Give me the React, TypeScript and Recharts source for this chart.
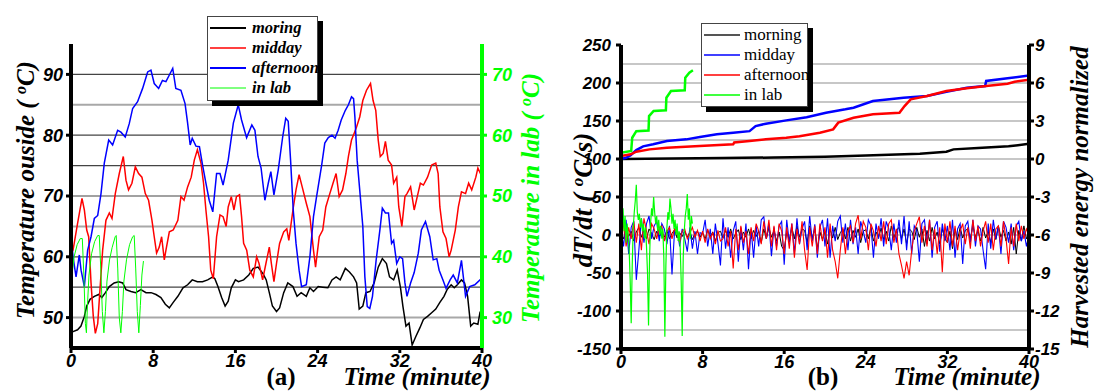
import { LineChart, Line, XAxis, YAxis, ReferenceLine } from 'recharts';

type Pt = [number, number];

// ---- (a) outside / lab temperature, [minute, °C] ----
const morningTemp: Pt[] = [
  [0, 47.5], [0.2, 47.7], [0.64, 48], [0.97, 48.6], [1.3, 50.2], [1.53, 51.9], [1.85, 53], [2.27, 53.5],
  [2.7, 53.8], [3.0, 53.3], [3.35, 54.1], [3.73, 55.1], [4.2, 55.7], [4.64, 55.9], [5.03, 55.7], [5.35, 54.6],
  [5.84, 54.3], [6.3, 54.1], [6.8, 54.6], [7.3, 54.1], [7.8, 54.1], [8.27, 53.8], [8.75, 53.3], [9.18, 52.2],
  [9.57, 51.6], [9.95, 52.5], [10.4, 53.5], [10.9, 54.9], [11.35, 55.4], [11.8, 56.2], [12.3, 55.9], [12.8, 55.9],
  [13.3, 56.2], [13.8, 56.7], [14.0, 56.4], [14.3, 55.1], [14.66, 53.3], [15.0, 51.9], [15.3, 52.7], [15.6, 54.9],
  [16, 56.2], [16.3, 55.9], [16.8, 56.2], [17.3, 57], [17.74, 58.1], [18.2, 58.3], [18.7, 57.2], [19, 56.2],
  [19.3, 54.1], [19.6, 51.9], [20, 51], [20.3, 51.6], [20.7, 54.1], [21.1, 55.7], [21.6, 55.1], [22.0, 53.5],
  [22.4, 54.1], [22.9, 53.5], [23.25, 54.9], [23.6, 54.3], [24.06, 55.1], [24.5, 55], [25.0, 54.9], [25.4, 56.2],
  [25.8, 56.7], [26.2, 56.2], [26.7, 58.1], [27.1, 57.5], [27.5, 56.7], [27.8, 55.7], [28.05, 51.4], [28.4, 51.9],
  [28.7, 54.1], [29.1, 54.3], [29.5, 55.7], [29.9, 58.3], [30.3, 59.7], [30.7, 58.9], [31.0, 56.7], [31.4, 56.2],
  [31.75, 57.8], [32.07, 54.9], [32.3, 51.9], [32.6, 48.6], [32.9, 49.1], [33.2, 45.5], [33.56, 46.9], [33.95, 48.3],
  [34.3, 49.7], [34.7, 50.2], [35.1, 50.8], [35.5, 51.4], [35.9, 52.5], [36.3, 53.5], [36.6, 54.6], [37.0, 55.4],
  [37.3, 54.9], [37.6, 55.4], [38, 56.2], [38.3, 55.7], [38.6, 53.5], [38.9, 48.6], [39.2, 49.1], [39.6, 48.9],
  [39.8, 50.8], [40, 50.5],
];

const middayTemp: Pt[] = [
  [0, 60.5], [0.2, 61.1], [0.64, 65.5], [1.07, 69.6], [1.3, 67.7], [1.53, 64.4], [1.72, 63.3], [1.95, 55.7],
  [2.17, 50.2], [2.37, 47.4], [2.6, 49], [2.82, 54.6], [3.08, 61.1], [3.4, 66], [3.73, 67.2], [3.99, 66.3],
  [4.31, 70.4], [4.7, 73.7], [5.09, 76.5], [5.35, 72.6], [5.6, 71], [5.93, 72.1], [6.26, 74.8], [6.58, 73.7],
  [6.9, 73.1], [7.23, 70.4], [7.55, 69.3], [7.88, 66], [8.1, 63.3], [8.33, 60.6], [8.59, 61.6], [8.82, 63.3],
  [9.08, 59.5], [9.24, 61.1], [9.57, 64.1], [9.95, 64.4], [10.4, 66], [10.7, 69.9], [11.0, 69.3], [11.35, 71.5],
  [11.7, 73.1], [12.0, 75.9], [12.3, 77.6], [12.65, 75.4], [12.9, 72.1], [13.13, 67.7], [13.39, 63.3], [13.6, 57.8],
  [13.85, 56.4], [14.17, 63.3], [14.5, 66.9], [14.8, 66.6], [15.1, 65], [15.3, 68.2], [15.6, 69.9], [15.86, 67.7],
  [16.1, 69.9], [16.4, 70.2], [16.6, 66.6], [16.8, 62.2], [17.1, 61.1], [17.4, 57.8], [17.74, 56.7], [18.07, 60],
  [18.3, 58.9], [18.65, 56.2], [18.97, 58.9], [19.3, 61.6], [19.5, 58.9], [19.75, 55.9], [20.0, 58.9], [20.3, 62.2],
  [20.7, 64.1], [21.0, 64.6], [21.2, 62.7], [21.6, 67.7], [21.9, 71], [22.2, 73.5], [22.5, 71.5], [22.9, 68.8],
  [23.25, 66.6], [23.6, 61.1], [23.8, 58.3], [24.16, 63.3], [24.5, 64.4], [24.8, 68.2], [25.1, 69.9], [25.5, 72.1],
  [25.8, 73.7], [26.1, 69.9], [26.43, 71], [26.75, 73.7], [27.0, 76.5], [27.3, 79.2], [27.6, 80.5], [27.8, 81.4],
  [28.1, 83], [28.4, 85.7], [28.76, 87.4], [29.15, 88.5], [29.4, 85.7], [29.66, 84.1], [29.9, 79.2], [30.1, 76.5],
  [30.38, 77], [30.6, 79], [30.87, 75.9], [31.2, 75.1], [31.4, 72.1], [31.7, 73.1], [31.9, 68.2], [32.2, 65],
  [32.5, 69.9], [32.7, 70.4], [33.05, 71.5], [33.4, 67.7], [33.7, 69.9], [34, 72.1], [34.3, 71.8], [34.7, 73.1],
  [35.1, 75.1], [35.5, 75.4], [35.73, 73.7], [35.9, 68.2], [36.2, 64.1], [36.5, 63], [36.8, 60], [37.0, 61.1],
  [37.4, 64.4], [37.7, 68.2], [38, 70.7], [38.4, 70.4], [38.7, 72.1], [39.0, 71], [39.4, 73.1], [39.6, 74.6],
  [39.9, 73.5], [40, 74],
];

const afternoonTemp: Pt[] = [
  [0, 63.5], [0.2, 60], [0.49, 56.7], [0.81, 60.3], [0.98, 57.8], [1.3, 55.1], [1.62, 61.1], [1.95, 63.3],
  [2.27, 66.3], [2.6, 66.8], [2.92, 70.4], [3.24, 75.4], [3.67, 79.2], [4.05, 78.4], [4.54, 80.8], [4.86, 80.5],
  [5.28, 79.7], [5.67, 81.9], [6.0, 84.4], [6.48, 85.5], [6.97, 87.7], [7.46, 90.4], [7.78, 90.7], [8.1, 88.5],
  [8.53, 87.7], [8.9, 89], [9.24, 88.8], [9.57, 89.9], [9.9, 91], [10.2, 87.7], [10.7, 87.4], [11.1, 85.2],
  [11.35, 82], [11.6, 78.4], [11.8, 79.5], [12.16, 78.2], [12.5, 78.1], [12.8, 75.1], [13.13, 72.1], [13.45, 69.3],
  [13.8, 67.4], [14.17, 73.7], [14.5, 73.7], [14.8, 71.8], [15.3, 75.9], [15.8, 82], [16.28, 85], [16.6, 82.5],
  [17.09, 79.6], [17.6, 81.7], [17.9, 80.8], [18.2, 76.5], [18.5, 74.6], [18.87, 69.3], [19.2, 72.1], [19.45, 74],
  [19.75, 70.2], [20.17, 74.3], [20.6, 79.7], [20.9, 82.8], [21.14, 82.3], [21.37, 75.9], [21.63, 67.7], [21.9, 62.2],
  [22.2, 57.8], [22.44, 55.1], [22.9, 55.4], [23.25, 60], [23.6, 66.6], [23.9, 69.9], [24.4, 75.1], [24.7, 78.7],
  [25.04, 79.6], [25.4, 80], [25.7, 79.5], [26.0, 80.8], [26.3, 82.5], [26.7, 84.1], [27.0, 85], [27.3, 86.3],
  [27.5, 86], [27.63, 83], [27.85, 75.9], [28.1, 71], [28.4, 65], [28.6, 56.7], [28.83, 51.8], [29.08, 51.5],
  [29.34, 53.5], [29.7, 59.5], [30.06, 64.4], [30.3, 68], [30.6, 67.2], [30.9, 67.2], [31.2, 62.2], [31.4, 62.7],
  [31.7, 58.9], [32, 60], [32.27, 59.7], [32.5, 55.7], [32.7, 53.5], [33.05, 55.7], [33.4, 57.4], [33.8, 60.6],
  [34.1, 64.4], [34.5, 65.8], [34.92, 63.3], [35.25, 59.5], [35.6, 59.7], [35.83, 57.8], [36.2, 56.2], [36.5, 54.8],
  [36.9, 56.2], [37.2, 57], [37.6, 55.7], [38, 59.4], [38.4, 53.5], [38.8, 55.1], [39.3, 55.4], [39.8, 56.2],
  [40, 56],
];

// lab temperature is read on the green (right) axis
const labTemp: Pt[] = [
  [0, 32], [0.1, 37], [0.3, 40], [0.6, 42], [0.9, 43], [1.1, 43], [1.25, 37], [1.4, 29], [1.5, 27.5],
  [1.6, 32], [1.75, 37], [2.0, 40.5], [2.3, 42.5], [2.6, 43.5], [2.75, 43.5], [2.9, 38], [3.05, 31], [3.2, 27.5],
  [3.35, 31], [3.5, 36], [3.75, 39.5], [4.0, 41.5], [4.3, 43.3], [4.4, 43.5], [4.55, 38], [4.7, 30], [4.85, 27.5],
  [5.0, 31], [5.15, 36], [5.4, 39.5], [5.7, 42], [6.0, 43.3], [6.15, 43.5], [6.3, 38], [6.45, 31], [6.6, 27.5],
  [6.75, 32], [6.9, 37], [7.05, 39.3],
];

// ---- (b) harvested energy (normalized, right axis), [minute, value] ----
const morningEnergy: Pt[] = [
  [0, 0], [5, 0.03], [10, 0.07], [15, 0.12], [20, 0.18], [24, 0.28], [27, 0.36], [29.3, 0.42],
  [31.9, 0.58], [32.6, 0.76], [35, 0.86], [38, 1.0], [40, 1.2],
];
const middayEnergy: Pt[] = [
  [0, 0], [0.5, 0.1], [0.95, 0.3], [1.5, 0.7], [2.17, 1.0], [3.15, 1.16], [4.5, 1.42], [6.4, 1.55],
  [7.74, 1.74], [9.4, 1.95], [11, 2.08], [12.6, 2.2], [13.2, 2.6], [14.2, 2.79], [16.2, 3.05], [18.2, 3.3],
  [20.1, 3.65], [22, 3.92], [22.8, 4.05], [24.7, 4.58], [27.7, 4.84], [30, 4.97], [31.9, 5.3], [33.9, 5.63],
  [35.7, 5.76], [35.8, 6.16], [37.9, 6.37], [40, 6.6],
];
const afternoonEnergy: Pt[] = [
  [0, 0.24], [0.95, 0.37], [1.5, 0.58], [2.8, 0.76], [4.5, 0.89], [7.7, 1.03], [11, 1.16], [11.1, 1.3],
  [12.6, 1.42], [14.2, 1.55], [16.2, 1.68], [17.5, 1.8], [19.5, 2.08], [20.8, 2.34], [21.3, 2.87], [22.8, 3.26],
  [24.7, 3.53], [27.3, 3.65], [27.8, 4.18], [28.4, 4.71], [30, 4.97], [31.9, 5.37], [33.9, 5.58], [35.8, 5.76],
  [37.9, 5.94], [38.6, 6.1], [40, 6.25],
];
const labEnergy: Pt[] = [
  [0, 0.5], [1.0, 0.63], [1.1, 1.68], [1.5, 2.2], [2.7, 2.25], [2.75, 3.39], [3.2, 3.79], [4.4, 3.85],
  [4.45, 4.84], [4.9, 5.37], [6.25, 5.42], [6.3, 6.42], [6.7, 6.81], [7.05, 7.0],
];

// ---- (b) dT/dt in °C/s, one reading every 0.25 min (lab: every 0.1 min) ----
const RATE_STEP = 0.25;
const LAB_STEP = 0.1;

const morningRate = [
  3, -5, 8, -2, 5, -8, 4, 10, -3, 6, -5, 8, 2, -6, 5, -2,
  4, -3, 6, -5, 2, 7, -4, 3, -2, 5, -3, 4, -6, 2, 5, -3,
  3, -5, 6, -2, 4, -8, 3, 5, -4, 6, -3, 8, -5, 2, 7, -6,
  4, -3, 8, -5, 6, -2, 5, -10, 8, -5, 10, -3, 6, -8, 4, -15,
  -20, 5, -8, 10, -5, 12, -3, 8, 6, -10, 12, -5, 8, -18, 4, -6,
  5, -12, 8, -4, 10, -6, 3, 8, -5, 10, -8, 6, -3, 8, -10, 5,
  7, -5, 10, -8, 4, -3, 9, -6, 5, -8, 12, -4, 6, 10, -5, 8,
  -12, 8, 5, -6, 10, -3, 8, -15, 6, -8, 10, -5, 4, -12, 8, -4,
  -10, 5, -18, 8, -6, 10, -4, 6, 8, -5, 12, -3, 6, -8, 10, -4,
  5, -10, 8, -6, 12, -3, 6, -8, 4, -12, 10, -25, 6, -8, 12, -5,
  3,
];
const middayRate = [
  5, -15, 20, -25, 10, 18, -59, -20, 22, -10, 15, 25, -5, 12, 18, -8,
  15, 8, -12, 12, -52, 5, 10, -15, 8, -5, -22, 10, -18, 5, -25, 3,
  2, 20, -15, 8, -25, 15, -10, -40, 22, -18, 10, -30, 5, 18, -35, 10,
  -20, 15, -45, 8, -30, 12, -15, 20, 24, -5, 15, -28, 10, -15, 12, 18,
  -39, 20, -10, 15, -25, 22, -12, 8, 18, -20, 25, -8, 14, -30, 10, 20,
  -15, 22, -30, 12, -8, 18, 25, -10, 15, -20, 20, -12, 10, -25, 18, 5,
  -10, 20, 12, -30, 15, -5, 22, -15, 18, 8, -20, 15, -10, 20, -12, 25,
  -20, 18, -25, 12, 5, -35, 15, 20, -12, 20, -30, 10, 18, -22, 15, -8,
  12, -20, 20, -30, 8, 15, -38, 12, 18, -10, 20, -15, 12, 8, -20, -45,
  15, -18, 20, -5, 12, -25, 18, 10, -10, 15, -20, 12, 18, -8, 5, -15,
  0,
];
const afternoonRate = [
  -28, 20, -15, 10, -5, 18, -10, 15, -20, 22, 5, -12, 15, 8, -5, 10,
  12, -8, 5, 10, -5, 8, 3, -10, 5, 8, -5, 3, 10, -3, 6, -8,
  5, -10, 8, -5, 3, -12, 6, -8, -5, 10, -15, 5, -44, 8, -20, 12,
  -10, 5, -25, 10, -8, 15, 5, -12, 18, -5, 20, -15, 12, -20, 15, 5,
  -25, 10, -18, 15, -30, 8, -12, 18, -20, -46, 10, -15, 12, -25, 15, -8,
  10, -30, 15, -20, -35, -57, -20, 10, -25, 5, 12, -10, 15, 26, -5, 18,
  10, -20, 15, 5, -15, 12, -8, 18, -12, 15, 20, -10, 8, -25, -40, -57,
  -35, -53, -20, 5, 15, 24, -10, 12, -15, 20, -20, 8, -25, 10, -49, 15,
  -10, 18, -15, 12, -20, 5, 15, -12, 10, -18, 20, -8, 12, -15, 5, 18,
  -10, 15, -20, 8, 12, -15, 18, -5, -38, 10, -15, 15, -8, 12, -5, 8,
  0,
];
const labRate = [
  45, 20, 35, 5, 25, -10, 15, 0, -20, -60, -116, -40, 10, 30, 45, 66, 30, 20, 28, 10,
  22, 5, 15, -5, 10, -15, -50, -119, -30, 15, 35, 25, 50, 30, 15, 25, 5, 20, 0, 12,
  -5, 8, -30, -134, -40, 10, 30, 20, 48, 35, 15, 28, 8, 20, 0, 15, -8, 5, -15, -60,
  -133, -30, 5, 25, 35, 54, 20, 35, -5, 25, 15,
];

// ---- axes / grid ----
const timeTicks = [0, 8, 16, 24, 32, 40];
const tempTicks = [50, 60, 70, 80, 90];
const labTicks = [30, 40, 50, 60, 70];
const tempGridDark = [55, 60, 70, 75, 80, 90];
const tempGridLight = [50, 65, 85];
const rateTicks = [-150, -100, -50, 0, 50, 100, 150, 200, 250];
const energyTicks = [-15, -12, -9, -6, -3, 0, 3, 6, 9];
const rateGrid = [-125, -100, -75, -50, -25, 0, 25, 50, 75, 100, 125, 150, 175, 200, 225];

const GREEN = '#00ff00';
const SANS = 'Liberation Sans, Arial, sans-serif';
const SERIF = 'Liberation Serif, Times New Roman, serif';

const toRows = (pts: Pt[]) => pts.map(([t, v]) => ({ t, v }));
const seqRows = (vals: number[], step: number) => vals.map((v, i) => ({ t: +(i * step).toFixed(2), v }));

const tickFont = (size: number, fill = '#000') => ({
  fontSize: size,
  fontFamily: SANS,
  fontWeight: 700,
  fontStyle: 'italic',
  fill,
});

const axisLine = (stroke = '#000') => ({ stroke, strokeWidth: 4 });
const tickLine = (stroke = '#000') => ({ stroke, strokeWidth: 3 });

function LegendBox({
  left, top, width, height, items, italic,
}: {
  left: number; top: number; width: number; height: number;
  items: { label: string; color: string; w: number }[];
  italic: boolean;
}) {
  return (
    <div
      style={{
        position: 'absolute', left, top, width, height, boxSizing: 'border-box',
        background: '#fff', border: '1px solid #444', boxShadow: '5px 5px 0 #000',
        paddingTop: 1,
      }}
    >
      {items.map((it) => (
        <div key={it.label} style={{ height: 20, display: 'flex', alignItems: 'center' }}>
          <svg width={40} height={20} style={{ flex: 'none', marginLeft: 2 }}>
            <line x1={0} y1={10} x2={36} y2={10} stroke={it.color} strokeWidth={it.w} />
          </svg>
          <span
            style={{
              fontFamily: SERIF,
              fontSize: italic ? 16.5 : 17,
              fontWeight: italic ? 700 : 400,
              fontStyle: italic ? 'italic' : 'normal',
              lineHeight: '20px',
              marginLeft: italic ? 2 : 0,
            }}
          >
            {it.label}
          </span>
        </div>
      ))}
    </div>
  );
}

function PanelA() {
  return (
    <LineChart width={560} height={392} margin={{ top: 44, right: 18, bottom: 14, left: 11 }}>
      <XAxis
        dataKey="t" type="number" domain={[0, 40]} ticks={timeTicks} allowDataOverflow
        height={30} tickSize={5} tickMargin={1}
        axisLine={axisLine()} tickLine={tickLine()} tick={tickFont(18)}
      />
      <YAxis
        yAxisId="temp" domain={[45, 95]} ticks={tempTicks} allowDataOverflow width={60}
        tickSize={5} tickMargin={3} axisLine={axisLine()} tickLine={tickLine()} tick={tickFont(18)}
      />
      <YAxis
        yAxisId="lab" orientation="right" domain={[25, 75]} ticks={labTicks} allowDataOverflow width={60}
        tickSize={5} tickMargin={5} axisLine={axisLine(GREEN)} tickLine={tickLine(GREEN)} tick={tickFont(18, GREEN)}
      />
      {tempGridLight.map((y) => (
        <ReferenceLine key={'l' + y} yAxisId="temp" y={y} stroke="#a8a8a8" strokeWidth={2} />
      ))}
      {tempGridDark.map((y) => (
        <ReferenceLine key={'d' + y} yAxisId="temp" y={y} stroke="#444" strokeWidth={1.2} />
      ))}
      <Line data={toRows(morningTemp)} dataKey="v" yAxisId="temp" stroke="#000" strokeWidth={1.5} dot={false} isAnimationActive={false} />
      <Line data={toRows(middayTemp)} dataKey="v" yAxisId="temp" stroke="#ff0000" strokeWidth={1.5} dot={false} isAnimationActive={false} />
      <Line data={toRows(afternoonTemp)} dataKey="v" yAxisId="temp" stroke="#0000ff" strokeWidth={1.5} dot={false} isAnimationActive={false} />
      <Line data={toRows(labTemp)} dataKey="v" yAxisId="lab" stroke={GREEN} strokeWidth={1} dot={false} isAnimationActive={false} />
    </LineChart>
  );
}

function PanelB() {
  return (
    <LineChart width={534} height={392} margin={{ top: 45, right: 15, bottom: 13, left: 11 }}>
      <XAxis
        dataKey="t" type="number" domain={[0, 40]} ticks={timeTicks} allowDataOverflow
        height={30} tickSize={5} tickMargin={1}
        axisLine={axisLine()} tickLine={tickLine()} tick={tickFont(18)}
      />
      <YAxis
        yAxisId="rate" domain={[-150, 250]} ticks={rateTicks} allowDataOverflow width={50}
        tickSize={5} tickMargin={5} axisLine={axisLine()} tickLine={tickLine()} tick={tickFont(17)}
      />
      <YAxis
        yAxisId="energy" orientation="right" domain={[-15, 9]} ticks={energyTicks} allowDataOverflow width={50}
        tickSize={5} tickMargin={1} axisLine={axisLine()} tickLine={tickLine()} tick={tickFont(17)}
      />
      {rateGrid.map((y) => (
        <ReferenceLine key={y} yAxisId="rate" y={y} stroke="#b4b4b4" strokeWidth={1.5} />
      ))}
      {/* noisy dT/dt traces: morning underneath, lab on top */}
      <Line data={seqRows(morningRate, RATE_STEP)} dataKey="v" yAxisId="rate" stroke="#000" strokeWidth={1} dot={false} isAnimationActive={false} />
      <Line data={seqRows(middayRate, RATE_STEP)} dataKey="v" yAxisId="rate" stroke="#0000ff" strokeWidth={1.1} dot={false} isAnimationActive={false} />
      <Line data={seqRows(afternoonRate, RATE_STEP)} dataKey="v" yAxisId="rate" stroke="#ff0000" strokeWidth={1.1} dot={false} isAnimationActive={false} />
      <Line data={seqRows(labRate, LAB_STEP)} dataKey="v" yAxisId="rate" stroke={GREEN} strokeWidth={1.2} dot={false} isAnimationActive={false} />
      <Line data={toRows(morningEnergy)} dataKey="v" yAxisId="energy" stroke="#000" strokeWidth={2.5} dot={false} isAnimationActive={false} />
      <Line data={toRows(middayEnergy)} dataKey="v" yAxisId="energy" stroke="#0000ff" strokeWidth={2.5} dot={false} isAnimationActive={false} />
      <Line data={toRows(afternoonEnergy)} dataKey="v" yAxisId="energy" stroke="#ff0000" strokeWidth={2.5} dot={false} isAnimationActive={false} />
      <Line data={toRows(labEnergy)} dataKey="v" yAxisId="energy" stroke={GREEN} strokeWidth={2.5} dot={false} isAnimationActive={false} />
    </LineChart>
  );
}

const titleStyle = {
  fontFamily: SERIF,
  fontWeight: 700,
  fontStyle: 'italic' as const,
};

export default function App() {
  return (
    <div style={{ position: 'absolute', left: 0, top: 0, width: 1094, height: 392, background: '#fff', overflow: 'hidden' }}>
      <div style={{ position: 'absolute', left: 0, top: 0 }}>
        <PanelA />
      </div>
      <div style={{ position: 'absolute', left: 560, top: 0 }}>
        <PanelB />
      </div>

      <svg width={1094} height={392} style={{ position: 'absolute', left: 0, top: 0, pointerEvents: 'none' }}>
        <text transform="translate(34,190) rotate(-90)" textAnchor="middle" fontSize={25} {...titleStyle}>
          Temperature ouside ( <tspan fontSize={16} baselineShift="super">o</tspan>C)
        </text>
        <text transform="translate(539,198) rotate(-90)" textAnchor="middle" fontSize={25} fill={GREEN} {...titleStyle}>
          Temperature in lab ( <tspan fontSize={16} baselineShift="super">o</tspan>C)
        </text>
        <text transform="translate(592,200) rotate(-90)" textAnchor="middle" fontSize={27} {...titleStyle}>
          dT/dt ( <tspan fontSize={17} baselineShift="super">o</tspan>C/s)
        </text>
        <text transform="translate(1088,197) rotate(-90)" textAnchor="middle" fontSize={25} {...titleStyle}>
          Harvested energy normalized
        </text>
        <text x={417} y={385} textAnchor="middle" fontSize={25} {...titleStyle}>Time (minute)</text>
        <text x={967} y={385} textAnchor="middle" fontSize={25} {...titleStyle}>Time (minute)</text>
        <text x={281} y={385} textAnchor="middle" fontSize={25} fontFamily={SERIF} fontWeight={700}>(a)</text>
        <text x={823} y={385} textAnchor="middle" fontSize={25} fontFamily={SERIF} fontWeight={700}>(b)</text>
      </svg>

      <LegendBox
        left={207} top={16} width={111} height={85} italic
        items={[
          { label: 'moring', color: '#000', w: 2 },
          { label: 'midday', color: '#ff0000', w: 1.5 },
          { label: 'afternoon', color: '#0000ff', w: 2 },
          { label: 'in lab', color: GREEN, w: 1 },
        ]}
      />
      <LegendBox
        left={701} top={23} width={107} height={84} italic={false}
        items={[
          { label: 'morning', color: '#555', w: 2 },
          { label: 'midday', color: '#0000ff', w: 1.5 },
          { label: 'afternoon', color: '#ff0000', w: 1.5 },
          { label: 'in lab', color: GREEN, w: 1.5 },
        ]}
      />
    </div>
  );
}
